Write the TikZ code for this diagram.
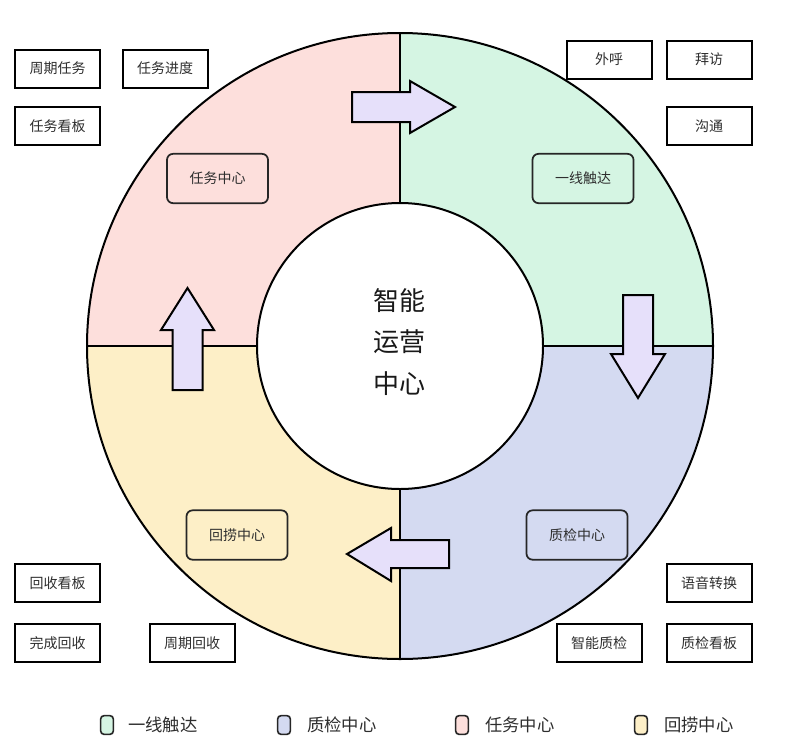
\documentclass[tikz,border=0pt]{standalone}
\usepackage{fontspec}
\setmainfont{Noto Sans CJK SC}
\definecolor{cgreen}{HTML}{D5F5E3}
\definecolor{cblue}{HTML}{D4DAF1}
\definecolor{cpink}{HTML}{FDDFDC}
\definecolor{cyellow}{HTML}{FDEFC7}
\definecolor{carrow}{HTML}{E6E0FA}
\definecolor{ctext}{HTML}{2E2E2E}
\tikzset{
  outerbox/.style={draw=black, fill=white, line width=1.5pt, minimum width=63.75pt, minimum height=28.5pt, inner sep=0pt, text=ctext, font=\fontsize{10.5}{12}\selectfont},
  quadbox/.style={draw=black!85, line width=1.3pt, rounded corners=4.5pt, minimum width=75.75pt, minimum height=37pt, inner sep=0pt, text=ctext, font=\fontsize{10.5}{12}\selectfont},
  legsq/.style={draw=black!85, line width=1.2pt, rounded corners=2.5pt, minimum width=9.5pt, minimum height=14pt, inner sep=0pt},
  legtext/.style={anchor=west, inner sep=0pt, text=ctext, font=\fontsize{13}{15}\selectfont},
  bigarrow/.style={draw=black, fill=carrow, line width=1.5pt, line join=miter},
  ring/.style={draw=black, line width=1.5pt}
}
\begin{document}
\begin{tikzpicture}[x=0.75pt, y=-0.75pt]
\useasboundingbox (0,0) rectangle (796,750);
\fill[white] (0,0) rectangle (796,750);
\coordinate (C) at (400,346);
% quadrants
\fill[cgreen] (C) -- ++(270:313) arc[start angle=270, end angle=360, radius=313] -- cycle;
\fill[cblue] (C) -- ++(0:313) arc[start angle=0, end angle=90, radius=313] -- cycle;
\fill[cyellow] (C) -- ++(90:313) arc[start angle=90, end angle=180, radius=313] -- cycle;
\fill[cpink] (C) -- ++(180:313) arc[start angle=180, end angle=270, radius=313] -- cycle;
\draw[ring] (400,33) -- (400,659);
\draw[ring] (87,346) -- (713,346);
\draw[ring] (C) circle[radius=313];
\draw[ring, fill=white] (C) circle[radius=143];
\node[font=\fontsize{19.5}{31}\selectfont, align=center, text=black!90] (center) at (399,342) {智能\\运营\\中心};
% arrows
\draw[bigarrow] (352,92) -- (410,92) -- (410,81) -- (455,107) -- (410,133) -- (410,122) -- (352,122) -- cycle;
\draw[bigarrow] (623,295) -- (653,295) -- (653,354) -- (665,354) -- (638,398) -- (611,354) -- (623,354) -- cycle;
\draw[bigarrow] (449,540) -- (391,540) -- (391,528) -- (347,554) -- (391,581) -- (391,568) -- (449,568) -- cycle;
\draw[bigarrow] (202.5,390) -- (202.5,330) -- (214,330) -- (187.5,288) -- (161,330) -- (172.5,330) -- (172.5,390) -- cycle;
% quadrant boxes
\node[quadbox, fill=cpink] (qpink) at (217.5,178.5) {任务中心};
\node[quadbox, fill=cgreen] (qgreen) at (583,178.5) {一线触达};
\node[quadbox, fill=cblue] (qblue) at (577,535) {质检中心};
\node[quadbox, fill=cyellow] (qyellow) at (237,535) {回捞中心};
% outer boxes
\node[outerbox] (b1) at (57.5,68.5) {周期任务};
\node[outerbox] (b2) at (165,68.5) {任务进度};
\node[outerbox] (b3) at (57.5,126) {任务看板};
\node[outerbox] (b4) at (609,59.5) {外呼};
\node[outerbox] (b5) at (709,59.5) {拜访};
\node[outerbox] (b6) at (709,126) {沟通};
\node[outerbox] (b7) at (57.5,583) {回收看板};
\node[outerbox] (b8) at (57.5,643) {完成回收};
\node[outerbox] (b9) at (192,643) {周期回收};
\node[outerbox] (b10) at (709,583) {语音转换};
\node[outerbox] (b11) at (599,643) {智能质检};
\node[outerbox] (b12) at (709,643) {质检看板};
% legend
\node[legsq, fill=cgreen] (l1) at (107,725) {};
\node[legtext] (t1) at (128,725) {一线触达};
\node[legsq, fill=cblue] (l2) at (284,725) {};
\node[legtext] (t2) at (307,725) {质检中心};
\node[legsq, fill=cpink] (l3) at (462,725) {};
\node[legtext] (t3) at (485,725) {任务中心};
\node[legsq, fill=cyellow] (l4) at (641,725) {};
\node[legtext] (t4) at (664,725) {回捞中心};
\end{tikzpicture}
\end{document}
